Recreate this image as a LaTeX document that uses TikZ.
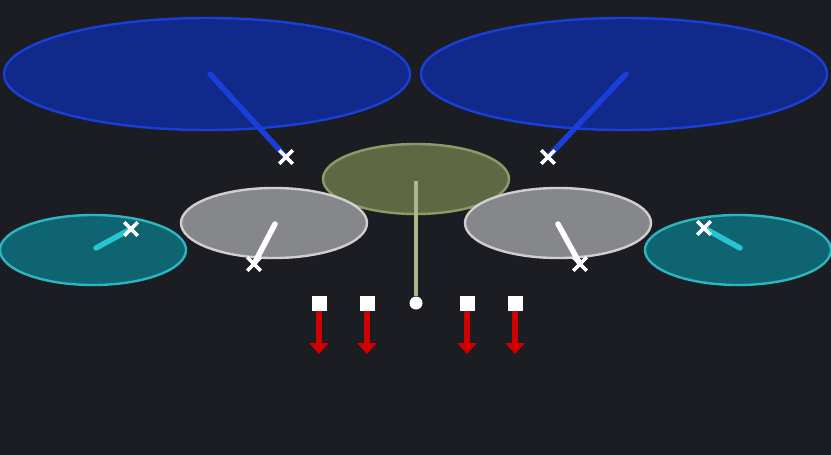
\documentclass[tikz,border=0pt]{standalone}
\usetikzlibrary{shapes.geometric,shapes.misc,arrows.meta}

\definecolor{bgdark}{HTML}{1B1D22}
\definecolor{bluefill}{HTML}{10298A}
\definecolor{blueline}{HTML}{1A3FD8}
\definecolor{olivefill}{HTML}{5E6944}
\definecolor{oliveline}{HTML}{8E9A68}
\definecolor{stemgreen}{HTML}{A8BA88}
\definecolor{grayfill}{HTML}{86878B}
\definecolor{grayline}{HTML}{CFCFCF}
\definecolor{tealfill}{HTML}{0E6470}
\definecolor{tealline}{HTML}{2DB5C0}
\definecolor{cyanline}{HTML}{2AC3D2}
\definecolor{arrowred}{HTML}{D00000}

\tikzset{
    pad/.style={ellipse,draw,line width=2.4pt,inner sep=0pt},
    bigpad/.style={pad,minimum width=406pt,minimum height=112pt,fill=bluefill,draw=blueline},
    midpad/.style={pad,minimum width=186pt,minimum height=70pt},
    xmark/.style={cross out,draw=white,line width=3.4pt,minimum size=10pt,inner sep=0pt},
    stick/.style={line width=5.5pt,line cap=round},
    plug/.style={rectangle,fill=white,minimum size=15pt,inner sep=0pt},
    drop/.style={arrowred,line width=6.5pt,-{Triangle[width=19pt,length=11pt]}}
}

\begin{document}
\begin{tikzpicture}[x=1pt,y=-1pt]
        \def\yTop{74}                               % height of the two large pads
        \def\yMid{223}                              % height of the gray pads
        \def\yLow{250}                              % height of the teal pads
        \def\yPlug{303}                             % height of the row of plugs

        % background and fixed frame
        \fill[bgdark] (0,0) rectangle (831,455);
        \useasboundingbox (0,0) rectangle (831,455);

        % large blue pads on top
        \node[bigpad] (blueL) at (207,\yTop) {};
        \node[bigpad] (blueR) at (624,\yTop) {};

        % teal pads on the outside
        \node[midpad,fill=tealfill,draw=tealline] (tealL) at (93,\yLow) {};
        \node[midpad,fill=tealfill,draw=tealline] (tealR) at (738,\yLow) {};

        % olive pad in the middle, under the gray ones
        \node[midpad,fill=olivefill,draw=oliveline] (olive) at (416,179) {};

        % gray pads
        \node[midpad,fill=grayfill,draw=grayline] (grayL) at (274,\yMid) {};
        \node[midpad,fill=grayfill,draw=grayline] (grayR) at (558,\yMid) {};

        % pivot points of the sticks
        \coordinate (pBL) at (210,\yTop);
        \coordinate (pBR) at (626,\yTop);
        \coordinate (pGL) at (275,224);
        \coordinate (pGR) at (558,224);
        \coordinate (pTL) at (96,248);
        \coordinate (pTR) at (740,248);
        \coordinate (pO)  at (416,181);

        % end marks
        \node[xmark] (xBL) at (286,157) {};
        \node[xmark] (xBR) at (548,157) {};
        \node[xmark] (xGL) at (254,264) {};
        \node[xmark] (xGR) at (580,264) {};
        \node[xmark] (xTL) at (131,229) {};
        \node[xmark] (xTR) at (704,228) {};
        \node[circle,fill=white,minimum size=13pt,inner sep=0pt] (dotO) at (416,\yPlug) {};

        % sticks
        \draw[stick,blueline] (pBL) -- (xBL.center);
        \draw[stick,blueline] (pBR) -- (xBR.center);
        \draw[stick,white] (pGL) -- (xGL.center);
        \draw[stick,white] (pGR) -- (xGR.center);
        \draw[stick,cyanline] (pTL) -- (xTL.center);
        \draw[stick,cyanline] (pTR) -- (xTR.center);
        \draw[stick,stemgreen,line width=4.5pt,line cap=butt] (pO) -- (dotO.north);

        % marks again on top of the sticks
        \foreach \m in {xBL,xBR,xGL,xGR,xTL,xTR}
            \node[xmark] at (\m) {};

        % plugs with red arrows
        \foreach \n/\x in {a/319,b/367,c/467,d/515}{
            \node[plug] (plug\n) at (\x,\yPlug) {};
            \coordinate (tip\n) at (\x,354);
            \draw[drop] (plug\n.south) -- (tip\n);
        }
\end{tikzpicture}
\end{document}
